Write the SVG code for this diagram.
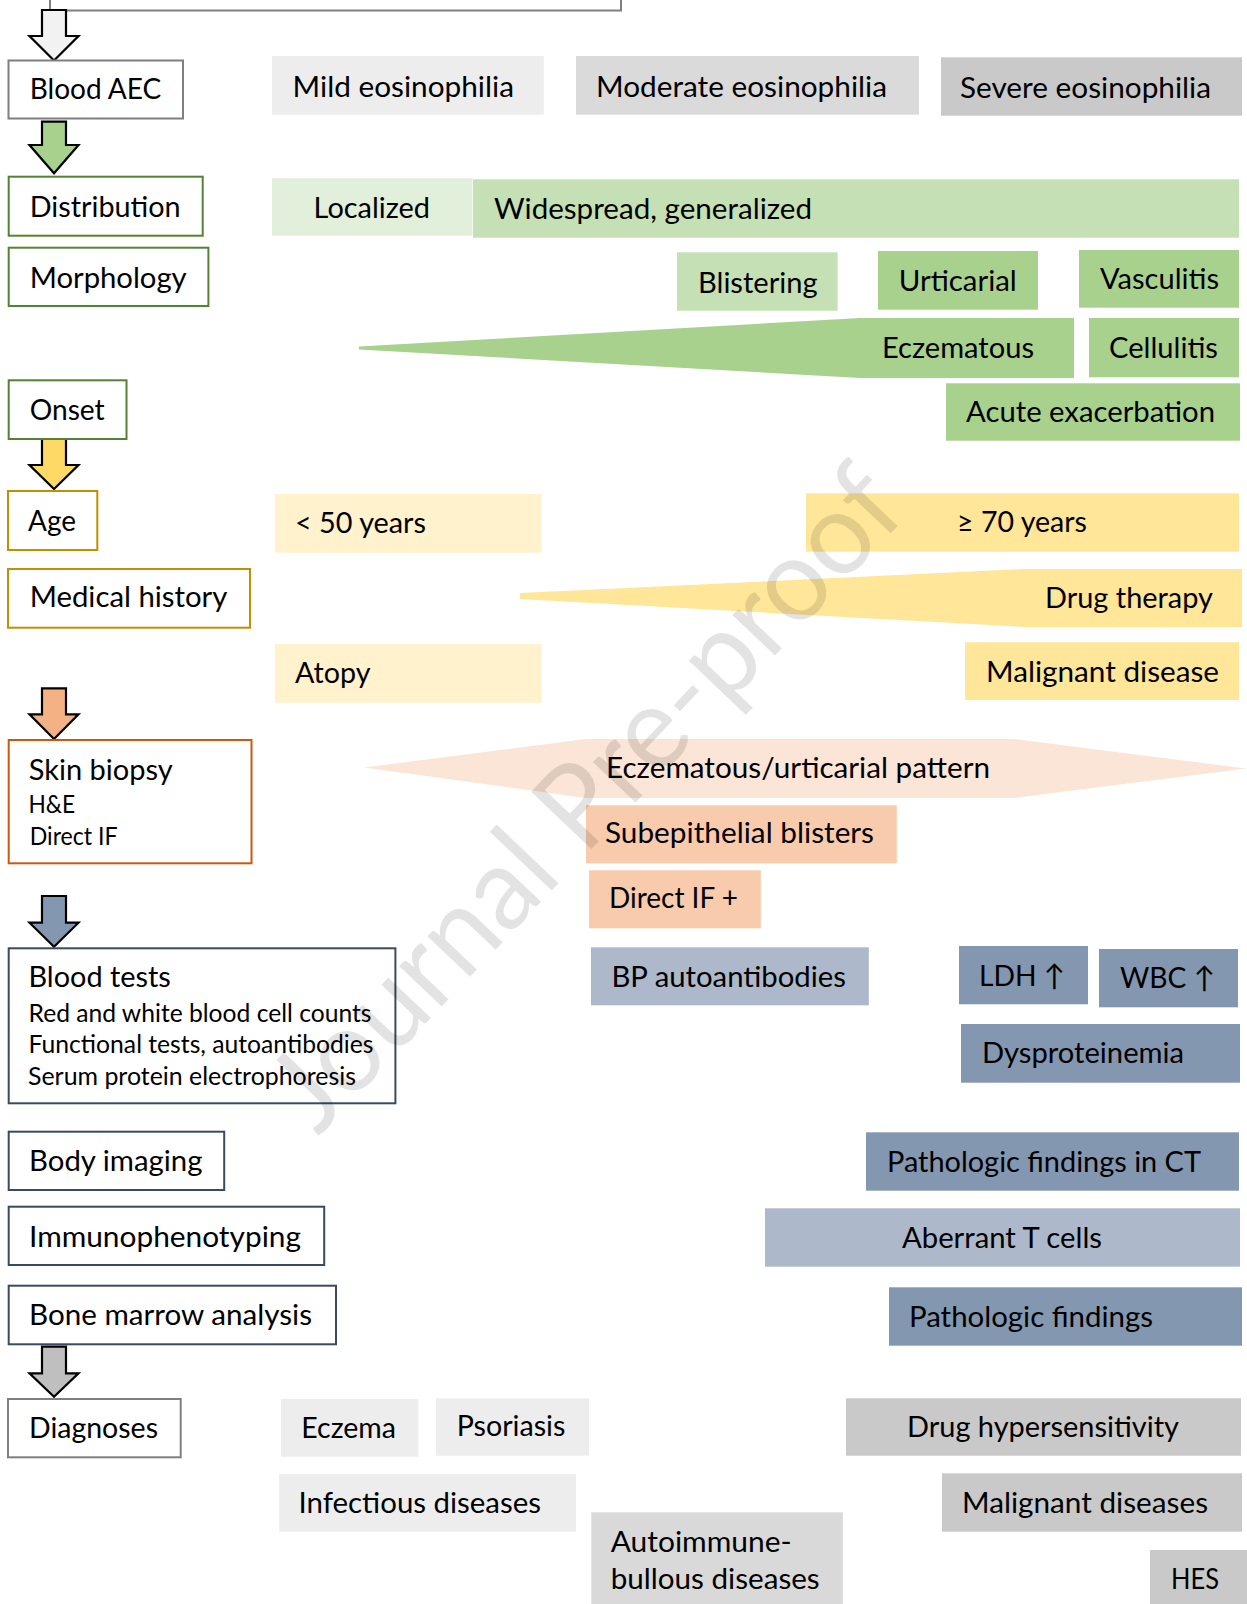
<svg xmlns="http://www.w3.org/2000/svg" width="1247" height="1604" viewBox="0 0 1247 1604">
<style>
text{font-family:Lato,"Liberation Sans","DejaVu Sans",sans-serif;font-size:29.5px;fill:#000}
.s{font-size:24.5px}
.ob{fill:#fff;stroke-width:2}
.gray{stroke:#7f7f7f}.grn{stroke:#548235}.gold{stroke:#bf9000}.org{stroke:#c55a11}.navy{stroke:#3b4a5e}
.arr{stroke:#000;stroke-width:2.2;stroke-linejoin:miter}
.wm{font-size:116px;fill:#000;fill-opacity:0.11}
</style>
<rect x="50" y="-50" width="571" height="60.5" class="ob gray"/>
<g id="connectors">
<path class="arr" fill="#f2f2f2" d="M42,10 V36 H29.5 L54,60.5 L78.5,36 H66 V10 Z"/>
<path class="arr" fill="#a9d18e" d="M42,121.7 V145 H29.5 L54,173.3 L78.5,145 H66 V121.7 Z"/>
<path class="arr" fill="#ffd966" d="M42,439 V465 H29.5 L54,489 L78.5,465 H66 V439 Z"/>
<path class="arr" fill="#f4b183" d="M42,688.3 V714.3 H29.5 L54,739 L78.5,714.3 H66 V688.3 Z"/>
<path class="arr" fill="#8497b0" d="M42,896 V922.7 H29.5 L54,946.7 L78.5,922.7 H66 V896 Z"/>
<path class="arr" fill="#bfbfbf" d="M42,1346.7 V1373.3 H29.5 L54,1396.7 L78.5,1373.3 H66 V1346.7 Z"/>
</g>
<g id="blood-aec"><rect x="8.5" y="60.5" width="174.5" height="58" class="ob gray"/><text x="29.7" y="99.3" textLength="131.6" lengthAdjust="spacingAndGlyphs">Blood AEC</text></g>
<g id="distribution"><rect x="8.7" y="176.7" width="194" height="59" class="ob grn"/><text x="29.7" y="216.7" textLength="151" lengthAdjust="spacingAndGlyphs">Distribution</text></g>
<g id="morphology"><rect x="8.7" y="247.7" width="199.7" height="58.3" class="ob grn"/><text x="29.7" y="287.7" textLength="157" lengthAdjust="spacingAndGlyphs">Morphology</text></g>
<g id="onset"><rect x="8.7" y="380.3" width="117.8" height="58.7" class="ob grn"/><text x="29.7" y="420" textLength="75" lengthAdjust="spacingAndGlyphs">Onset</text></g>
<g id="age"><rect x="8" y="491" width="89.3" height="59" class="ob gold"/><text x="28" y="530.7" textLength="48" lengthAdjust="spacingAndGlyphs">Age</text></g>
<g id="medical-history"><rect x="8" y="569" width="242" height="58.7" class="ob gold"/><text x="29.7" y="607.3" textLength="197.7" lengthAdjust="spacingAndGlyphs">Medical history</text></g>
<g id="skin-biopsy"><rect x="8.7" y="740" width="242.8" height="123.3" class="ob org"/><text x="28.7" y="780" textLength="144" lengthAdjust="spacingAndGlyphs">Skin biopsy</text><text class="s" x="28.5" y="812.7" textLength="46.7" lengthAdjust="spacingAndGlyphs">H&amp;E</text><text class="s" x="29.7" y="845" textLength="88" lengthAdjust="spacingAndGlyphs">Direct IF</text></g>
<g id="blood-tests"><rect x="8.7" y="948.3" width="386.7" height="155" class="ob navy"/><text x="28.5" y="987.3" textLength="142.3" lengthAdjust="spacingAndGlyphs">Blood tests</text><text class="s" x="28.5" y="1021.7" textLength="343" lengthAdjust="spacingAndGlyphs">Red and white blood cell counts</text><text class="s" x="28.5" y="1053.3" textLength="345" lengthAdjust="spacingAndGlyphs">Functional tests, autoantibodies</text><text class="s" x="28" y="1085" textLength="328" lengthAdjust="spacingAndGlyphs">Serum protein electrophoresis</text></g>
<g id="body-imaging"><rect x="8.7" y="1131.7" width="215.5" height="58.3" class="ob navy"/><text x="29" y="1171" textLength="173.4" lengthAdjust="spacingAndGlyphs">Body imaging</text></g>
<g id="immunophenotyping"><rect x="8.7" y="1206.7" width="315.5" height="58.3" class="ob navy"/><text x="29" y="1246.7" textLength="272" lengthAdjust="spacingAndGlyphs">Immunophenotyping</text></g>
<g id="bone-marrow"><rect x="8.7" y="1285.7" width="327.3" height="58.6" class="ob navy"/><text x="29" y="1325.3" textLength="283" lengthAdjust="spacingAndGlyphs">Bone marrow analysis</text></g>
<g id="diagnoses"><rect x="8" y="1399" width="172.7" height="58.3" class="ob gray"/><text x="29" y="1437.7" textLength="129" lengthAdjust="spacingAndGlyphs">Diagnoses</text></g>

<g id="mild"><rect x="272" y="56" width="271.7" height="58.7" fill="#ededed"/><text x="292.6" y="96.7" textLength="221.4" lengthAdjust="spacingAndGlyphs">Mild eosinophilia</text></g>
<g id="moderate"><rect x="576" y="56" width="343" height="58.7" fill="#dadada"/><text x="596" y="96.5" textLength="291" lengthAdjust="spacingAndGlyphs">Moderate eosinophilia</text></g>
<g id="severe"><rect x="941" y="57.3" width="301" height="58.4" fill="#c9c9c9"/><text x="960" y="98.3" textLength="251" lengthAdjust="spacingAndGlyphs">Severe eosinophilia</text></g>
<g id="localized"><rect x="272" y="178.3" width="200.5" height="57.4" fill="#e2efda"/><text x="313.6" y="218.3" textLength="116.4" lengthAdjust="spacingAndGlyphs">Localized</text></g>
<g id="widespread"><rect x="473" y="179.3" width="766" height="58.4" fill="#c5e0b4"/><text x="494" y="219.3" textLength="318" lengthAdjust="spacingAndGlyphs">Widespread, generalized</text></g>
<g id="blistering"><rect x="677" y="252.3" width="160.6" height="58.4" fill="#c5e0b4"/><text x="698" y="293.3" textLength="119.6" lengthAdjust="spacingAndGlyphs">Blistering</text></g>
<g id="urticarial"><rect x="878" y="251" width="160" height="58.7" fill="#a9d18e"/><text x="898.8" y="290.7" textLength="118" lengthAdjust="spacingAndGlyphs">Urticarial</text></g>
<g id="vasculitis"><rect x="1079" y="250" width="160" height="57.7" fill="#a9d18e"/><text x="1100" y="288.7" textLength="119" lengthAdjust="spacingAndGlyphs">Vasculitis</text></g>
<g id="eczematous"><polygon points="359,346.5 860,318 1074,318 1074,378 860,378 359,349.5" fill="#a9d18e"/><text x="882" y="358" textLength="152" lengthAdjust="spacingAndGlyphs">Eczematous</text></g>
<g id="cellulitis"><rect x="1089" y="318" width="150" height="59.3" fill="#a9d18e"/><text x="1109" y="358.3" textLength="109" lengthAdjust="spacingAndGlyphs">Cellulitis</text></g>
<g id="acute"><rect x="946" y="383.3" width="294" height="57.4" fill="#a9d18e"/><text x="966" y="422.3" textLength="249" lengthAdjust="spacingAndGlyphs">Acute exacerbation</text></g>
<g id="under50"><rect x="274.8" y="494" width="266.9" height="58.7" fill="#fff2cc"/><text x="295" y="533.3" textLength="131" lengthAdjust="spacingAndGlyphs">&lt; 50 years</text></g>
<g id="over70"><rect x="806" y="493.3" width="433" height="58.4" fill="#ffe699"/><text x="957" y="532.3" textLength="130" lengthAdjust="spacingAndGlyphs">≥ 70 years</text></g>
<g id="drug-therapy"><polygon points="520,593 1025,569 1242,569 1242,627 1025,627 520,599" fill="#ffe699"/><text x="1045" y="608.3" textLength="168" lengthAdjust="spacingAndGlyphs">Drug therapy</text></g>
<g id="atopy"><rect x="274.8" y="644" width="266.9" height="58.7" fill="#fff2cc"/><text x="295" y="683.3" textLength="75.5" lengthAdjust="spacingAndGlyphs">Atopy</text></g>
<g id="malignant-disease"><rect x="965" y="642.3" width="274" height="57.7" fill="#ffe699"/><text x="986" y="681.7" textLength="233" lengthAdjust="spacingAndGlyphs">Malignant disease</text></g>
<g id="pattern"><polygon points="364,767.5 586,739 1014,739 1246,768.5 1014,798 586,798" fill="#fbe5d6"/><text x="606" y="778.3" textLength="384" lengthAdjust="spacingAndGlyphs">Eczematous/urticarial pattern</text></g>
<g id="subepithelial"><rect x="586" y="805.3" width="310.8" height="58" fill="#f8cbad"/><text x="605" y="843.3" textLength="269" lengthAdjust="spacingAndGlyphs">Subepithelial blisters</text></g>
<g id="direct-if-pos"><rect x="589" y="870.3" width="171.8" height="58" fill="#f8cbad"/><text x="609" y="908.3" textLength="129" lengthAdjust="spacingAndGlyphs">Direct IF +</text></g>
<g id="bp"><rect x="591" y="947.3" width="277.8" height="58" fill="#adb9ca"/><text x="611.4" y="986.7" textLength="234.6" lengthAdjust="spacingAndGlyphs">BP autoantibodies</text></g>
<g id="ldh"><rect x="959" y="946" width="129" height="58.3" fill="#8497b0"/><text x="979" y="985.7" textLength="86" lengthAdjust="spacingAndGlyphs">LDH ↑</text></g>
<g id="wbc"><rect x="1099" y="949" width="139" height="58.3" fill="#8497b0"/><text x="1120" y="988.3" textLength="95" lengthAdjust="spacingAndGlyphs">WBC ↑</text></g>
<g id="dysproteinemia"><rect x="961" y="1024" width="279" height="58.7" fill="#8497b0"/><text x="982" y="1062.7" textLength="202" lengthAdjust="spacingAndGlyphs">Dysproteinemia</text></g>
<g id="path-ct"><rect x="866" y="1132.3" width="373" height="58.4" fill="#8497b0"/><text x="887" y="1171.7" textLength="314" lengthAdjust="spacingAndGlyphs">Pathologic findings in CT</text></g>
<g id="aberrant"><rect x="765" y="1208.3" width="475" height="58.4" fill="#adb9ca"/><text x="902" y="1247.7" textLength="200" lengthAdjust="spacingAndGlyphs">Aberrant T cells</text></g>
<g id="path-findings"><rect x="889" y="1287.3" width="353" height="58.4" fill="#8497b0"/><text x="909" y="1326.7" textLength="244" lengthAdjust="spacingAndGlyphs">Pathologic findings</text></g>
<g id="eczema"><rect x="281" y="1399" width="137.3" height="57.7" fill="#ededed"/><text x="301.3" y="1438.3" textLength="94.7" lengthAdjust="spacingAndGlyphs">Eczema</text></g>
<g id="psoriasis"><rect x="436" y="1398.3" width="153" height="57.4" fill="#ededed"/><text x="456.7" y="1436" textLength="108.7" lengthAdjust="spacingAndGlyphs">Psoriasis</text></g>
<g id="drug-hyper"><rect x="846" y="1398.3" width="395" height="57.4" fill="#c9c9c9"/><text x="907" y="1436.7" textLength="272" lengthAdjust="spacingAndGlyphs">Drug hypersensitivity</text></g>
<g id="infectious"><rect x="279.2" y="1474" width="296.8" height="57.7" fill="#ededed"/><text x="298.5" y="1513.3" textLength="242.5" lengthAdjust="spacingAndGlyphs">Infectious diseases</text></g>
<g id="malignant-diseases"><rect x="942" y="1473.3" width="300" height="58.4" fill="#c9c9c9"/><text x="962" y="1513.3" textLength="246" lengthAdjust="spacingAndGlyphs">Malignant diseases</text></g>
<g id="autoimmune"><rect x="591.3" y="1512.3" width="251.5" height="92" fill="#d9d9d9"/><text x="610.7" y="1551.7" textLength="181" lengthAdjust="spacingAndGlyphs">Autoimmune-</text><text x="610.7" y="1589" textLength="209" lengthAdjust="spacingAndGlyphs">bullous diseases</text></g>
<g id="hes"><rect x="1150" y="1550" width="97" height="54" fill="#c9c9c9"/><text x="1171" y="1589" textLength="48" lengthAdjust="spacingAndGlyphs">HES</text></g>
<text class="wm" transform="translate(614,825) rotate(-46.5)" text-anchor="middle" textLength="860" lengthAdjust="spacingAndGlyphs">Journal Pre-proof</text>
</svg>
